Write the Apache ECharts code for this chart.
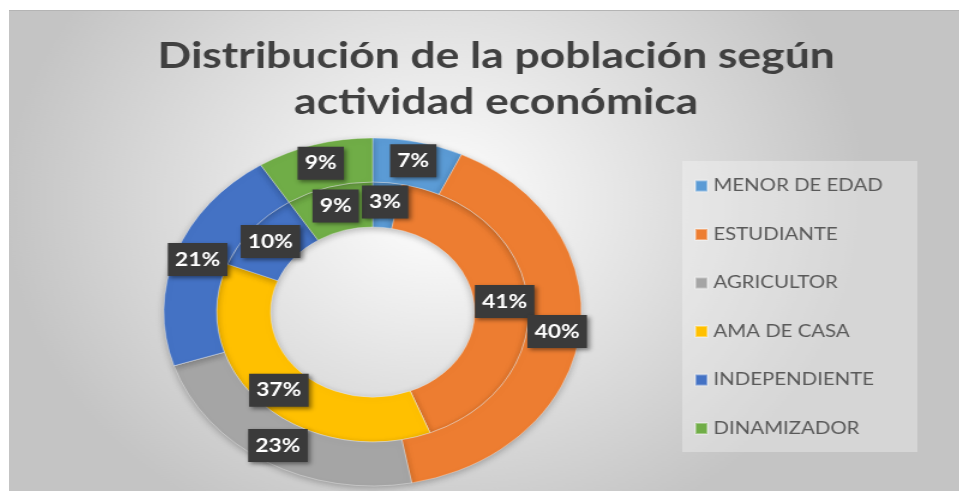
<!DOCTYPE html>
<html>
<head>
<meta charset="utf-8">
<script src="https://cdn.jsdelivr.net/npm/echarts@6/dist/echarts.min.js"></script>
<style>
    html, body { margin: 0; padding: 0; background: #fff; overflow: hidden; }
    #frame { position: absolute; left: 9px; top: 10px; width: 950px; height: 481px; border-top: 1px solid #b4b4b4; overflow: hidden; }
    /* el grafico original esta estirado en horizontal */
    #chart { width: 792px; height: 481px; transform: scaleX(1.2); transform-origin: 0 0; }
</style>
</head>
<body>
<div id="frame"><div id="chart"></div></div>
<script>
// categorias y porcentajes
var categorias = ['MENOR DE EDAD', 'ESTUDIANTE', 'AGRICULTOR', 'AMA DE CASA', 'INDEPENDIENTE', 'DINAMIZADOR'];
var colores = ['#5B9BD5', '#ED7D31', '#A5A5A5', '#FFC000', '#4472C4', '#70AD47'];
var anilloInterior = [3, 41, 0, 37, 10, 9];
var anilloExterior = [7, 40, 23, 0, 21, 9];

function armarDatos(valores) {
    var arr = [];
    for (var i = 0; i < categorias.length; i++) {
        arr.push({
            name: categorias[i],
            value: valores[i],
            itemStyle: {color: colores[i]},
            label: {show: valores[i] > 0}
        });
    }
    return arr;
}

var etiqueta = {
    position: 'inside',
    formatter: '{c}%',
    color: '#fff',
    fontFamily: 'Lato',
    fontWeight: 'bold',
    fontSize: 19,
    lineHeight: 23,
    backgroundColor: '#3a3a3a',
    padding: [5, 6],
    shadowColor: 'rgba(0,0,0,0.45)',
    shadowBlur: 4,
    shadowOffsetX: 2,
    shadowOffsetY: 2
};

var estiloSector = {
    borderColor: 'rgba(255,255,255,0.35)',
    borderWidth: 1,
    shadowColor: 'rgba(0,0,0,0.25)',
    shadowBlur: 6,
    shadowOffsetY: 2
};

var myChart = echarts.init(document.getElementById('chart'), null, {width: 792, height: 481});
var option = {
    animation: false,
    backgroundColor: {
        type: 'radial', x: 0.45, y: 0.4, r: 0.75,
        colorStops: [
            {offset: 0, color: '#ffffff'},
            {offset: 1, color: '#c4c4c4'}
        ]
    },
    title: {
        text: 'Distribución de la población según\nactividad económica',
        left: 401,
        textAlign: 'center',
        top: 17,
        textStyle: {
            fontFamily: 'Lato',
            fontWeight: 'bold',
            fontSize: 37,
            lineHeight: 46,
            color: '#404040'
        }
    },
    graphic: [{
        type: 'rect',
        left: 561,
        top: 150,
        shape: {width: 196, height: 291},
        style: {fill: 'rgba(255,255,255,0.3)'},
        z: 0
    }],
    legend: {
        orient: 'vertical',
        left: 561,
        top: 150,
        padding: [15, 10, 14, 10],
        itemGap: 28.5,
        itemWidth: 10,
        itemHeight: 11,
        icon: 'rect',
        data: categorias,
        textStyle: {
            fontFamily: 'Lato',
            fontSize: 17,
            lineHeight: 20,
            color: '#595959'
        }
    },
    series: [
        {
            name: 'Interior',
            type: 'pie',
            center: [303, 301],
            radius: [85, 130],
            startAngle: 90,
            clockwise: true,
            avoidLabelOverlap: false,
            labelLayout: {hideOverlap: false},
            label: etiqueta,
            labelLine: {show: false},
            itemStyle: estiloSector,
            emphasis: {disabled: true},
            data: armarDatos(anilloInterior)
        },
        {
            name: 'Exterior',
            type: 'pie',
            center: [303, 301],
            radius: [130, 174],
            startAngle: 90,
            clockwise: true,
            avoidLabelOverlap: false,
            labelLayout: {hideOverlap: false},
            label: etiqueta,
            labelLine: {show: false},
            itemStyle: estiloSector,
            emphasis: {disabled: true},
            data: armarDatos(anilloExterior)
        }
    ]
};
myChart.setOption(option);
</script>
</body>
</html>
